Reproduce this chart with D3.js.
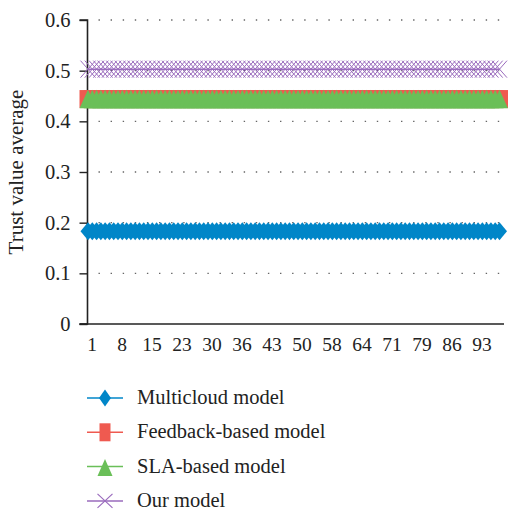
<!DOCTYPE html>
<html>
<head>
<meta charset="utf-8">
<script src="https://cdn.jsdelivr.net/npm/d3@7"></script>
<style>
  html, body { margin: 0; padding: 0; background: #fff; }
  svg { display: block; }
</style>
</head>
<body>
<svg id="chart" width="508" height="512" font-family="'Liberation Serif', serif"></svg>
<script>
// Trust value average per run, for each of the four models
const multicloud = [
  0.183,0.183,0.183,0.183,0.183,0.183,0.183,0.183,0.183,0.183,
  0.183,0.183,0.183,0.183,0.183,0.183,0.183,0.183,0.183,0.183,
  0.183,0.183,0.183,0.183,0.183,0.183,0.183,0.183,0.183,0.183,
  0.183,0.183,0.183,0.183,0.183,0.183,0.183,0.183,0.183,0.183,
  0.183,0.183,0.183,0.183,0.183,0.183,0.183,0.183,0.183,0.183,
  0.183,0.183,0.183,0.183,0.183,0.183,0.183,0.183,0.183,0.183,
  0.183,0.183,0.183,0.183,0.183,0.183,0.183,0.183,0.183,0.183,
  0.183,0.183,0.183,0.183,0.183,0.183,0.183,0.183,0.183,0.183,
  0.183,0.183,0.183,0.183,0.183,0.183,0.183,0.183,0.183,0.183,
  0.183,0.183,0.183,0.183,0.183,0.183,0.183
];
const feedbackBased = [
  0.444,0.444,0.444,0.444,0.444,0.444,0.444,0.444,0.444,0.444,
  0.444,0.444,0.444,0.444,0.444,0.444,0.444,0.444,0.444,0.444,
  0.444,0.444,0.444,0.444,0.444,0.444,0.444,0.444,0.444,0.444,
  0.444,0.444,0.444,0.444,0.444,0.444,0.444,0.444,0.444,0.444,
  0.444,0.444,0.444,0.444,0.444,0.444,0.444,0.444,0.444,0.444,
  0.444,0.444,0.444,0.444,0.444,0.444,0.444,0.444,0.444,0.444,
  0.444,0.444,0.444,0.444,0.444,0.444,0.444,0.444,0.444,0.444,
  0.444,0.444,0.444,0.444,0.444,0.444,0.444,0.444,0.444,0.444,
  0.444,0.444,0.444,0.444,0.444,0.444,0.444,0.444,0.444,0.444,
  0.444,0.444,0.444,0.444,0.444,0.444,0.444
];
const slaBased = [
  0.444,0.444,0.444,0.444,0.444,0.444,0.444,0.444,0.444,0.444,
  0.444,0.444,0.444,0.444,0.444,0.444,0.444,0.444,0.444,0.444,
  0.444,0.444,0.444,0.444,0.444,0.444,0.444,0.444,0.444,0.444,
  0.444,0.444,0.444,0.444,0.444,0.444,0.444,0.444,0.444,0.444,
  0.444,0.444,0.444,0.444,0.444,0.444,0.444,0.444,0.444,0.444,
  0.444,0.444,0.444,0.444,0.444,0.444,0.444,0.444,0.444,0.444,
  0.444,0.444,0.444,0.444,0.444,0.444,0.444,0.444,0.444,0.444,
  0.444,0.444,0.444,0.444,0.444,0.444,0.444,0.444,0.444,0.444,
  0.444,0.444,0.444,0.444,0.444,0.444,0.444,0.444,0.444,0.444,
  0.444,0.444,0.444,0.444,0.444,0.444,0.444
];
const ourModel = [
  0.503,0.503,0.503,0.503,0.503,0.503,0.503,0.503,0.503,0.503,
  0.503,0.503,0.503,0.503,0.503,0.503,0.503,0.503,0.503,0.503,
  0.503,0.503,0.503,0.503,0.503,0.503,0.503,0.503,0.503,0.503,
  0.503,0.503,0.503,0.503,0.503,0.503,0.503,0.503,0.503,0.503,
  0.503,0.503,0.503,0.503,0.503,0.503,0.503,0.503,0.503,0.503,
  0.503,0.503,0.503,0.503,0.503,0.503,0.503,0.503,0.503,0.503,
  0.503,0.503,0.503,0.503,0.503,0.503,0.503,0.503,0.503,0.503,
  0.503,0.503,0.503,0.503,0.503,0.503,0.503,0.503,0.503,0.503,
  0.503,0.503,0.503,0.503,0.503,0.503,0.503,0.503,0.503,0.503,
  0.503,0.503,0.503,0.503,0.503,0.503,0.503
];

// Category axis labels (shown every 7th run)
const xTickIndex  = [0, 7, 14, 21, 28, 35, 42, 49, 56, 63, 70, 77, 84, 91];
const xTickLabels = ["1","8","15","23","30","36","43","50","58","64","71","79","86","93"];
const yTicks = [0, 0.1, 0.2, 0.3, 0.4, 0.5, 0.6];

const seriesNames = ["Multicloud model", "Feedback-based model", "SLA-based model", "Our model"];
const seriesColors = ["#0086c8", "#ef5a50", "#6abf58", "#9a6bbd"];
const seriesShapes = ["diamond", "square", "triangle", "cross"];
const seriesValues = [multicloud, feedbackBased, slaBased, ourModel];

const FONT = "'Liberation Serif', serif";
const svg = d3.select("#chart");
const plot = { left: 87.5, right: 504, top: 20, bottom: 324 };

const x = d3.scaleLinear()
  .domain([0, multicloud.length - 1])
  .range([88, 499.5]);
const y = d3.scaleLinear()
  .domain([0, 0.6])
  .range([plot.bottom, plot.top]);

// dotted horizontal grid
svg.append("g")
  .selectAll("line")
  .data(yTicks.filter(v => v > 0))
  .join("line")
  .attr("x1", plot.left + 11)
  .attr("x2", plot.right)
  .attr("y1", d => y(d))
  .attr("y2", d => y(d))
  .attr("stroke", "#666")
  .attr("stroke-width", 1.4)
  .attr("stroke-dasharray", "1.4,10.7");

// y axis
const yAxis = svg.append("g")
  .attr("transform", `translate(${plot.left},0)`)
  .call(d3.axisLeft(y).tickValues(yTicks).tickSize(8).tickPadding(9)
    .tickFormat(d => d === 0 ? "0" : d3.format(".1f")(d)));
yAxis.attr("font-family", FONT);
yAxis.select(".domain").attr("stroke", "#222").attr("stroke-width", 1.6)
  .attr("d", `M-8,${plot.bottom}H0V${plot.top}H-8`);
yAxis.selectAll(".tick line").attr("stroke", "#222").attr("stroke-width", 1.4);
yAxis.selectAll(".tick text").attr("font-size", 20.5).attr("fill", "#222")
  .attr("font-family", FONT);

// x axis
const xAxis = svg.append("g")
  .attr("transform", `translate(0,${plot.bottom})`)
  .call(d3.axisBottom(x).tickValues(xTickIndex).tickSize(0).tickPadding(13)
    .tickFormat((d, i) => xTickLabels[i]));
xAxis.attr("font-family", FONT);
xAxis.select(".domain").attr("stroke", "#222").attr("stroke-width", 1.6)
  .attr("d", `M${plot.left - 8},0H${plot.right}`);
xAxis.selectAll(".tick text").attr("font-size", 19.5).attr("fill", "#222")
  .attr("dx", 3.5).attr("font-family", FONT);

// y axis title
svg.append("text")
  .attr("transform", `translate(23,172) rotate(-90)`)
  .attr("text-anchor", "middle")
  .attr("font-family", FONT)
  .attr("font-size", 21)
  .attr("fill", "#222")
  .text("Trust value average");

// marker path generators
function markerPath(shape, w, h) {
  const a = w / 2, b = h / 2;
  switch (shape) {
    case "diamond": return `M0,${-b}L${a},0L0,${b}L${-a},0Z`;
    case "square": return `M${-a},${-b}H${a}V${b}H${-a}Z`;
    case "triangle": return `M0,${-b}L${a},${b}L${-a},${b}Z`;
    case "cross": return `M${-a},${-b}L${a},${b}M${-a},${b}L${a},${-b}`;
  }
}
const chartMarkerSize = {
  diamond: [15, 18], square: [17, 18], triangle: [17, 18.5], cross: [15, 17]
};

const line = d3.line().x((d, i) => x(i)).y(d => y(d));

seriesValues.forEach((vals, s) => {
  const g = svg.append("g");
  const color = seriesColors[s];
  const shape = seriesShapes[s];
  g.append("path")
    .datum(vals)
    .attr("d", line)
    .attr("fill", "none")
    .attr("stroke", color)
    .attr("stroke-width", 1.5);
  const [w, h] = chartMarkerSize[shape];
  g.selectAll("path.m")
    .data(vals)
    .join("path")
    .attr("class", "m")
    .attr("transform", (d, i) => `translate(${x(i)},${y(d)})`)
    .attr("d", markerPath(shape, w, h))
    .attr("fill", shape === "cross" ? "none" : color)
    .attr("stroke", color)
    .attr("stroke-width", shape === "cross" ? 1 : 0);
});

// legend
const legendMarkerSize = {
  diamond: [12, 17], square: [11, 18], triangle: [15, 17], cross: [15, 14]
};
const legend = svg.append("g");
seriesNames.forEach((name, s) => {
  const ly = 398 + s * 34.3;
  const color = seriesColors[s];
  const shape = seriesShapes[s];
  const [w, h] = legendMarkerSize[shape];
  legend.append("line")
    .attr("x1", 87).attr("x2", 123)
    .attr("y1", ly).attr("y2", ly)
    .attr("stroke", color).attr("stroke-width", 1.5);
  legend.append("path")
    .attr("transform", `translate(105,${shape === "triangle" ? ly + 1 : ly})`)
    .attr("d", markerPath(shape, w, h))
    .attr("fill", shape === "cross" ? "none" : color)
    .attr("stroke", color)
    .attr("stroke-width", shape === "cross" ? 1.2 : 0);
  legend.append("text")
    .attr("x", 137).attr("y", ly)
    .attr("dy", "0.3em")
    .attr("font-family", FONT)
    .attr("font-size", 20.5)
    .attr("fill", "#222")
    .text(name);
});
</script>
</body>
</html>
